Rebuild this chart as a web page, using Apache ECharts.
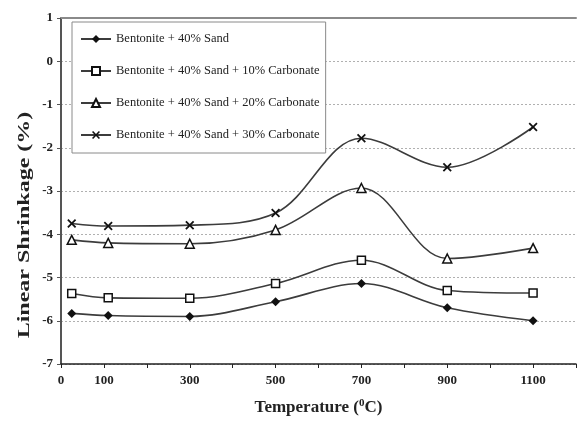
<!DOCTYPE html>
<html>
<head>
<meta charset="utf-8">
<script src="https://cdn.jsdelivr.net/npm/echarts@6/dist/echarts.min.js"></script>
<style>
  html, body { margin: 0; padding: 0; background: #fff; }
  #main { width: 579px; height: 421px; }
</style>
</head>
<body>
<div id="main"></div>
<script>
// temperature (°C) of each measurement
var temps = [25, 110, 300, 500, 700, 900, 1100];
var sand = [-5.83, -5.88, -5.9, -5.56, -5.14, -5.7, -6.0];
var carb10 = [-5.37, -5.47, -5.48, -5.14, -4.6, -5.3, -5.36];
var carb20 = [-4.13, -4.2, -4.22, -3.9, -2.93, -4.56, -4.32];
var carb30 = [-3.75, -3.81, -3.79, -3.51, -1.78, -2.45, -1.52];
var seriesNames = [
  "Bentonite + 40% Sand",
  "Bentonite + 40% Sand + 10% Carbonate",
  "Bentonite + 40% Sand + 20% Carbonate",
  "Bentonite + 40% Sand + 30% Carbonate"
];
var xLabels = [0, 100, 300, 500, 700, 900, 1100];

var font = "Liberation Serif";
var crossPath = "path://M0,1.4L1.4,0L5,3.6L8.6,0L10,1.4L6.4,5L10,8.6L8.6,10L5,6.4L1.4,10L0,8.6L3.6,5Z";

function pairs(vals) {
  return vals.map(function (v, i) { return [temps[i], v]; });
}

function makeSeries(name, vals, symbol, size, filled) {
  return {
    name: name,
    type: "line",
    smooth: 0.35,
    data: pairs(vals),
    symbol: symbol,
    symbolSize: size,
    showAllSymbol: true,
    lineStyle: { color: "#3c3c3c", width: 1.6 },
    itemStyle: {
      color: filled ? "#111" : "#fff",
      borderColor: "#111",
      borderWidth: filled ? 0 : 1.5
    },
    emphasis: { disabled: true },
    z: 3
  };
}

var chart = echarts.init(document.getElementById("main"));
var option = {
  backgroundColor: "#fff",
  animation: false,
  grid: { left: 61, right: 2, top: 18, bottom: 49 },
  legend: {
    orient: "vertical",
    left: 72,
    top: 22,
    backgroundColor: "#fff",
    borderColor: "#8a8a8a",
    borderWidth: 1,
    padding: [10, 6, 11, 8],
    itemWidth: 30,
    itemHeight: 10,
    itemGap: 18,
    textStyle: { fontFamily: font, fontSize: 12.5, color: "#222", lineHeight: 14 },
    data: seriesNames
  },
  xAxis: [
    {
      type: "value",
      min: 0,
      max: 1200,
      interval: 100,
      axisLine: { show: true, onZero: false, lineStyle: { color: "#222", width: 1.5 } },
      axisTick: { show: true, length: 4, lineStyle: { color: "#222" } },
      splitLine: { show: false },
      axisLabel: {
        fontFamily: font,
        fontWeight: "bold",
        fontSize: 13,
        color: "#222",
        margin: 10,
        formatter: function (v) {
          return xLabels.indexOf(v) >= 0 ? String(v) : "";
        }
      },
      name: "{t|Temperature (}{s|0}{t|C)}",
      nameLocation: "middle",
      nameGap: 34,
      nameTextStyle: {
        rich: {
          t: { fontFamily: font, fontWeight: "bold", fontSize: 17, color: "#222" },
          s: { fontFamily: font, fontWeight: "bold", fontSize: 11, color: "#222", verticalAlign: "top", padding: [0, 0, 8, 0] }
        }
      }
    },
    {
      type: "value",
      position: "top",
      min: 0,
      max: 1200,
      axisLine: { show: true, onZero: false, lineStyle: { color: "#8a8a8a", width: 2 } },
      axisTick: { show: false },
      axisLabel: { show: false },
      splitLine: { show: false }
    }
  ],
  yAxis: {
    type: "value",
    min: -7,
    max: 1,
    interval: 1,
    axisLine: { show: true, onZero: false, lineStyle: { color: "#555", width: 2 } },
    axisTick: { show: true, length: 4, lineStyle: { color: "#555" } },
    axisLabel: {
      fontFamily: font,
      fontWeight: "bold",
      fontSize: 13,
      color: "#222",
      margin: 8
    },
    splitLine: {
      show: true,
      lineStyle: { color: "#b0b0b0", type: [2, 2], width: 1 }
    }
  },
  graphic: [
    {
      type: "text",
      x: 25,
      y: 225,
      rotation: Math.PI / 2,
      scaleX: 1.5,
      style: {
        text: "Linear Shrinkage (%)",
        fontFamily: font,
        fontWeight: "bold",
        fontSize: 16,
        fill: "#222",
        align: "center",
        verticalAlign: "middle"
      }
    }
  ],
  series: [
    makeSeries(seriesNames[0], sand, "diamond", 9, true),
    makeSeries(seriesNames[1], carb10, "rect", 8, false),
    makeSeries(seriesNames[2], carb20, "triangle", 9, false),
    makeSeries(seriesNames[3], carb30, crossPath, 9, true)
  ]
};
chart.setOption(option);
</script>
</body>
</html>
